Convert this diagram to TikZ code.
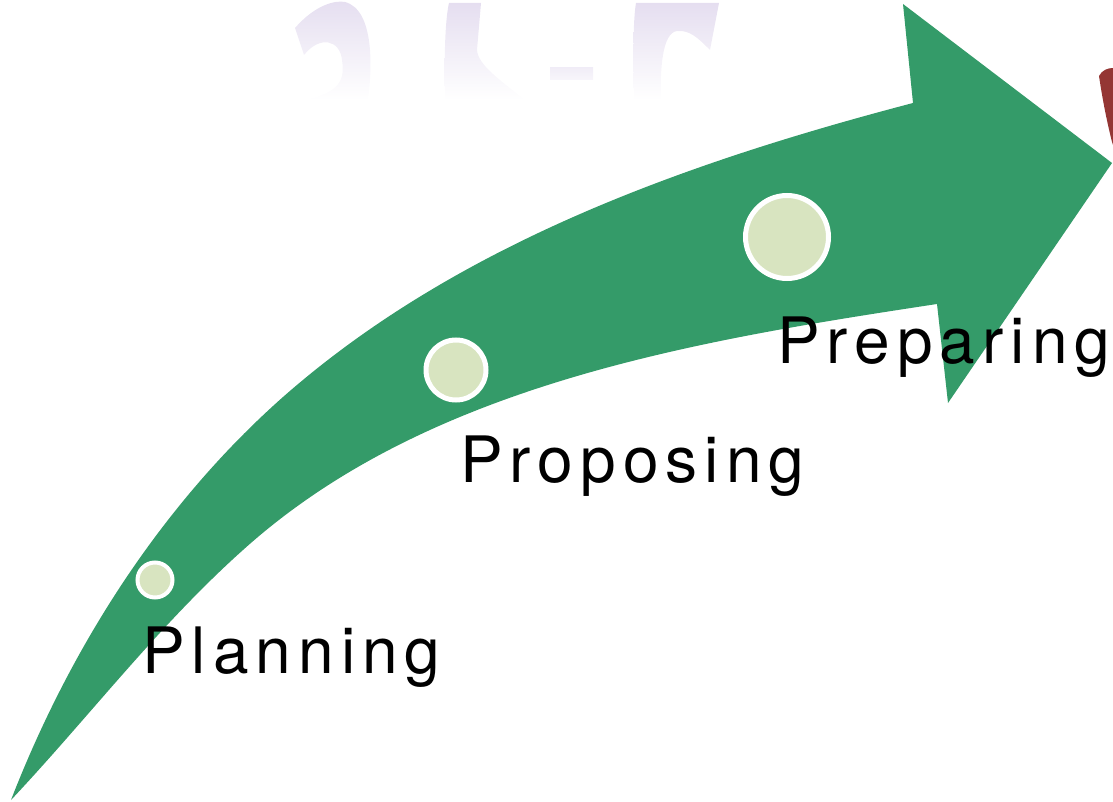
\documentclass[tikz,border=0pt]{standalone}
\usepackage{fontspec}
\newfontfamily\lblfont[LetterSpace=11]{TeX Gyre Heros}
\usetikzlibrary{shapes.geometric}
\definecolor{arrowgreen}{RGB}{52,155,105}
\definecolor{dotfill}{RGB}{216,228,192}
\definecolor{wmark}{RGB}{229,222,240}
\definecolor{wmarkmid}{RGB}{241,237,247}
\definecolor{redbar}{RGB}{148,54,52}
\tikzset{
  stepdot/.style={circle, fill=dotfill, draw=white, inner sep=0pt},
  steplabel/.style={anchor=base west, inner sep=0pt, font=\lblfont\fontsize{64}{70}\selectfont, text=black},
  wm/.style={top color=wmark, middle color=wmarkmid, bottom color=white, draw=none}
}
\begin{document}
\begin{tikzpicture}[x=1pt, y=-1pt]
\path[use as bounding box] (0,0) rectangle (1113,802);
% faint watermark shapes
\shade[wm] (295,28) .. controls (315,5) and (335,0) .. (345,2) .. controls (375,10) and (372,70) .. (368,100) -- (305,100) .. controls (340,92) and (345,80) .. (342,60) .. controls (340,40) and (320,35) .. (304,55) -- cycle;
\shade[wm] (449,3) -- (481,3) -- (477,50) .. controls (478,65) and (500,80) .. (525,100) -- (445,100) .. controls (444,60) and (445,20) .. cycle;
\shade[top color=wmarkmid, bottom color=white!50!wmarkmid, draw=none] (550,68) rectangle (593,80);
\shade[wm] (636,3) -- (719,3) -- (710,50) .. controls (698,38) and (690,30) .. (677,31) .. controls (662,33) and (660,70) .. (661,100) -- (634,100) .. controls (633,60) and (633,20) .. cycle;
% red sliver
\fill[redbar] (1099,76) .. controls (1102,70) and (1108,68) .. (1113,68) -- (1113,145) -- (1112,142) .. controls (1106,118) and (1102,96) .. cycle;
% main arrow
\fill[arrowgreen] (11,800) .. controls (70,648) and (161,505) .. (283,397)
  .. controls (458,243) and (688,162) .. (913,103)
  -- (903,4) -- (1112,163) -- (948,403) -- (937,304)
  .. controls (693,341) and (426,385) .. (243,550)
  .. controls (158,626) and (89,717) .. (11,800) -- cycle;
% dots
\node[stepdot, minimum size=35pt, line width=4pt] (d1) at (155,580) {};
\node[stepdot, minimum size=60pt, line width=5pt] (d2) at (456,370) {};
\node[stepdot, minimum size=83pt, line width=5pt] (d3) at (787,237) {};
% labels
\node[steplabel] (l1) at (142,673) {Planning};
\node[steplabel] (l2) at (460,482) {Proposing};
\node[steplabel] (l3) at (777,363) {Preparing};
\end{tikzpicture}
\end{document}
